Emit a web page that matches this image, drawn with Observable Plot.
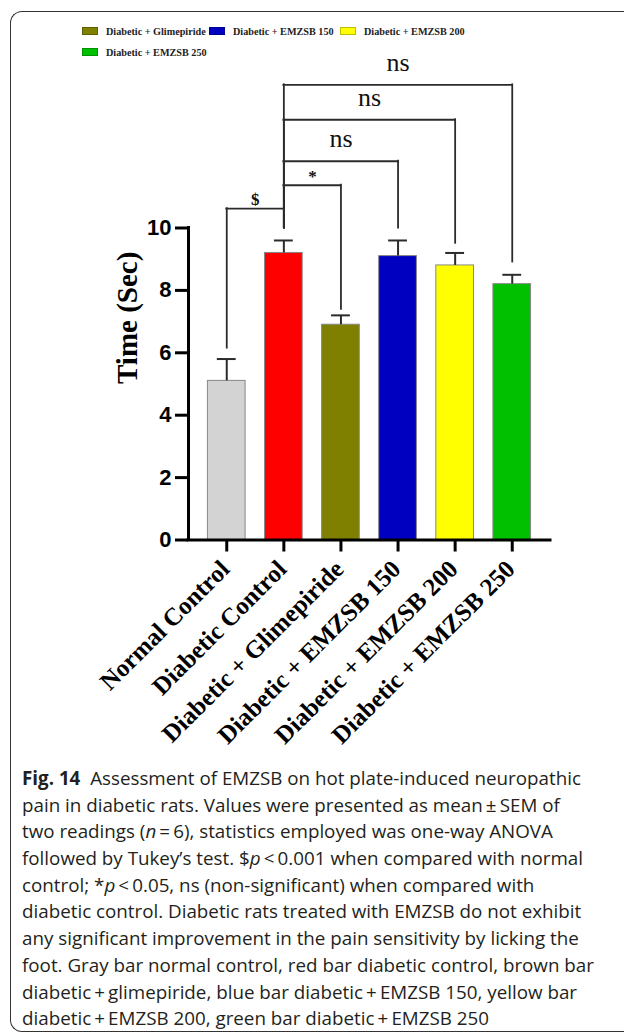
<!DOCTYPE html>
<html><head><meta charset="utf-8">
<script src="https://cdn.jsdelivr.net/npm/d3@7"></script>
<script src="https://cdn.jsdelivr.net/npm/@observablehq/plot@0.6"></script>
<style>
html,body{margin:0;padding:0;width:624px;height:1033px;overflow:hidden;background:#fff;}
#frame{position:absolute;left:10px;top:11px;width:700px;height:1019px;border:1.6px solid #333;border-right:none;border-radius:12px 0 0 12px;pointer-events:none;}
.leg{position:absolute;display:flex;align-items:center;height:12px;font-family:"Liberation Serif","Times New Roman",serif;font-weight:bold;font-size:10.2px;color:#222;white-space:nowrap;}
.sw{display:inline-block;width:16px;height:8px;margin-right:8px;border:1px solid rgba(0,0,0,0.25);box-sizing:border-box;}
#chart{position:absolute;left:0;top:60px;}
#chart svg{overflow:visible;}
#caption{position:absolute;left:22px;top:765px;font-family:"Open Sans",sans-serif;font-size:18.8px;line-height:26.7px;color:#231f20;white-space:pre;}
#caption div{height:26.7px;}
</style></head><body>
<div id="legend"></div>
<div id="chart"></div>
<div id="caption"></div>
<div id="frame"></div>
<script>
const groups = ["Normal Control","Diabetic Control","Diabetic + Glimepiride","Diabetic + EMZSB 150","Diabetic + EMZSB 200","Diabetic + EMZSB 250"];
const means = [5.1, 9.2, 6.9, 9.1, 8.8, 8.2];
const sems = [0.7, 0.4, 0.3, 0.5, 0.4, 0.3];
const yTicks = [0, 2, 4, 6, 8, 10];
const compareFrom = [0, 1, 1, 1, 1];
const compareTo = [1, 2, 3, 4, 5];
const bracketLevel = [10.62, 11.37, 12.14, 13.47, 14.59];
const fromLegEnd = [6.15, 10.0, 10.0, 10.0, 10.0];
const toLegEnd = [10.0, 7.39, 10.0, 9.51, 8.91];
const bracketText = ["$", "*", "ns", "ns", "ns"];
const legendGroups = [2, 3, 4, 5];
const palette = ["#d3d3d3", "#ff0000", "#808000", "#0000c0", "#ffff00", "#00c000"];

const bars = groups.map((g, i) => ({i, group: g, mean: means[i], sem: sems[i]}));
const brackets = compareFrom.map((f, k) => ({from: f, to: compareTo[k], level: bracketLevel[k], fromEnd: fromLegEnd[k], toEnd: toLegEnd[k], label: bracketText[k]}));
const xDomain = [-0.67, groups.length - 1 + 0.67];
const tickIdx = groups.map((g, i) => i);

// legend
const legendPos = [[82, 25], [209, 25], [340, 25], [82, 46]];
const legend = document.getElementById("legend");
legendGroups.forEach((gi, k) => {
  const d = document.createElement("div");
  d.className = "leg";
  d.style.left = legendPos[k][0] + "px";
  d.style.top = legendPos[k][1] + "px";
  d.innerHTML = `<span class="sw" style="background:${palette[gi]}"></span>${groups[gi]}`;
  legend.appendChild(d);
});

const serif = "Liberation Serif, Times New Roman, serif";
const ink = "#2b2b2b";
const chart = Plot.plot({
  width: 624,
  height: 702,
  marginLeft: 188,
  marginRight: 74,
  marginTop: 167.5,
  marginBottom: 222.5,
  style: {overflow: "visible", background: "transparent"},
  x: {domain: xDomain},
  y: {domain: [0, 10]},
  color: {domain: groups, range: palette},
  marks: [
    Plot.rect(bars, {x1: d => d.i - 0.33, x2: d => d.i + 0.33, y1: () => 0, y2: "mean", fill: "group", stroke: "#888", strokeWidth: 1}),
    Plot.ruleX(bars, {x: "i", y1: "mean", y2: d => d.mean + d.sem, stroke: ink, strokeWidth: 2}),
    Plot.ruleY(bars, {x1: d => d.i - 0.165, x2: d => d.i + 0.165, y: d => d.mean + d.sem, stroke: ink, strokeWidth: 2}),
    Plot.ruleY(brackets, {x1: "from", x2: "to", y: "level", stroke: ink, strokeWidth: 1.8, strokeLinecap: "square"}),
    Plot.ruleX(brackets, {x: "from", y1: "fromEnd", y2: "level", stroke: ink, strokeWidth: 1.8, strokeLinecap: "square"}),
    Plot.ruleX(brackets, {x: "to", y1: "toEnd", y2: "level", stroke: ink, strokeWidth: 1.8, strokeLinecap: "square"}),
    Plot.text(brackets.filter(b => b.label !== "ns"), {x: d => (d.from + d.to) / 2, y: "level", text: "label", dy: -3.5, lineAnchor: "bottom", fontSize: 17, fontWeight: "bold", fontFamily: serif, fill: "#111"}),
    Plot.text(brackets.filter(b => b.label === "ns"), {x: d => (d.from + d.to) / 2, y: "level", text: "label", dy: -14, lineAnchor: "bottom", fontSize: 26, fontFamily: serif, fill: "#111"}),
    Plot.ruleY([0], {stroke: "#000", strokeWidth: 3, strokeLinecap: "square"}),
    Plot.ruleX([xDomain[0]], {x: d => d, y1: () => 0, y2: () => 10, stroke: "#000", strokeWidth: 3, strokeLinecap: "square"}),
    Plot.axisY({ticks: yTicks, tickSize: 13, tickPadding: 4, strokeWidth: 3, fontSize: 22, fontWeight: "bold", fontFamily: "Liberation Sans, Arial, sans-serif", color: "#000", label: null}),
    Plot.axisX({ticks: tickIdx, tickSize: 12, strokeWidth: 3, tickFormat: () => "", color: "#000", label: null}),
    Plot.axisX({ticks: tickIdx, tickSize: 0, tickPadding: 25, dx: -1.5, tickRotate: -45, tickFormat: i => groups[i], fontSize: 25, fontWeight: "bold", fontFamily: serif, color: "#000", label: null}),
    Plot.text(["Time (Sec)"], {text: d => d, frameAnchor: "left", rotate: -90, dx: -52, lineAnchor: "bottom", fontSize: 29, fontWeight: "bold", fontFamily: serif, fill: "#000"})
  ]
});
document.getElementById("chart").appendChild(chart);

const T = "\u2009";
const captionLines = [
  `<b>Fig. 14</b>  Assessment of EMZSB on hot plate-induced neuropathic`,
  `pain in diabetic rats. Values were presented as mean${T}±${T}SEM of`,
  `two readings (<i>n</i>${T}=${T}6), statistics employed was one-way ANOVA`,
  `followed by Tukey’s test. $<i>p</i>${T}&lt;${T}0.001 when compared with normal`,
  `control; *<i>p</i>${T}&lt;${T}0.05, ns (non-significant) when compared with`,
  `diabetic control. Diabetic rats treated with EMZSB do not exhibit`,
  `any significant improvement in the pain sensitivity by licking the`,
  `foot. Gray bar normal control, red bar diabetic control, brown bar`,
  `diabetic${T}+${T}glimepiride, blue bar diabetic${T}+${T}EMZSB 150, yellow bar`,
  `diabetic${T}+${T}EMZSB 200, green bar diabetic${T}+${T}EMZSB 250`
];
document.getElementById("caption").innerHTML = captionLines.map(l => `<div>${l}</div>`).join("");
</script>
</body></html>
